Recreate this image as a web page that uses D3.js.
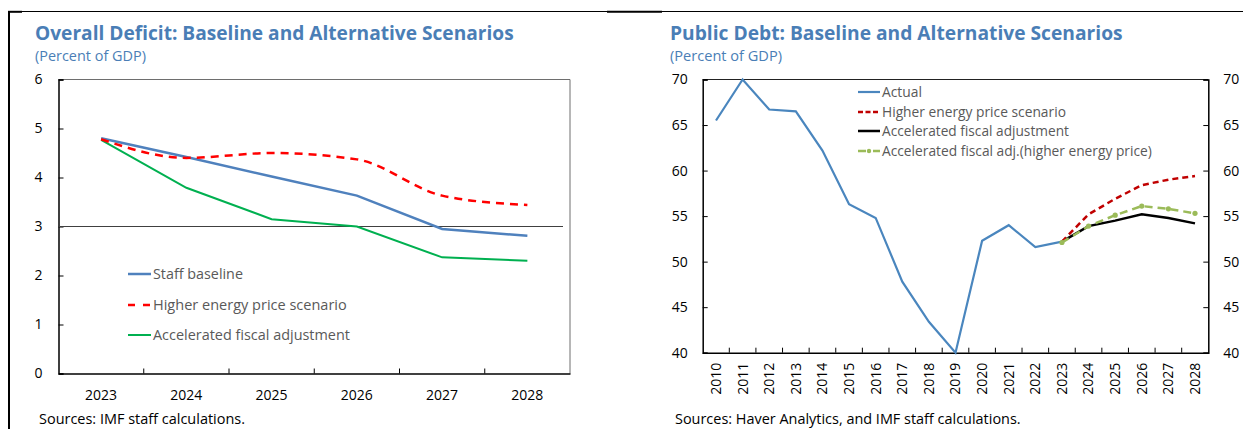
<!DOCTYPE html>
<html>
<head>
<meta charset="utf-8">
<script src="https://cdn.jsdelivr.net/npm/d3@7"></script>
<style>
  html, body { margin: 0; padding: 0; background: #fff; }
  svg { display: block; font-family: "Open Sans", "Noto Sans", sans-serif; }
</style>
</head>
<body>
<svg id="chart" width="1243" height="429"></svg>
<script>
// ---------- Data: left panel (Overall deficit, % of GDP) ----------
const deficitYears = ["2023", "2024", "2025", "2026", "2027", "2028"];
const staffBaseline = [4.80, 4.42, 4.02, 3.63, 2.95, 2.81];
const higherEnergyDeficit = [4.78, 4.40, 4.50, 4.37, 3.63, 3.44];
const acceleratedDeficit = [4.77, 3.79, 3.15, 3.00, 2.37, 2.30];
const deficitThreshold = 3;
const deficitTicks = [0, 1, 2, 3, 4, 5, 6];
const deficitLegend = ["Staff baseline", "Higher energy price scenario", "Accelerated fiscal adjustment"];

// ---------- Data: right panel (Public debt, % of GDP) ----------
const debtYears = ["2010","2011","2012","2013","2014","2015","2016","2017","2018","2019",
                   "2020","2021","2022","2023","2024","2025","2026","2027","2028"];
const actualYears = debtYears.slice(0, 14);           // 2010-2023
const scenarioYears = debtYears.slice(13);            // 2023-2028
const actualDebt = [65.5, 70.0, 66.7, 66.5, 62.2, 56.3, 54.8, 47.8, 43.4, 40.0, 52.3, 54.0, 51.6, 52.2];
const higherEnergyDebt = [52.2, 55.2, 56.9, 58.4, 59.0, 59.4];
const acceleratedDebt = [52.2, 53.9, 54.5, 55.2, 54.8, 54.2];
const acceleratedHigherDebt = [52.1, 53.9, 55.1, 56.1, 55.8, 55.3];
const debtTicks = [40, 45, 50, 55, 60, 65, 70];
const debtLegend = ["Actual", "Higher energy price scenario", "Accelerated fiscal adjustment",
                    "Accelerated fiscal adj.(higher energy price)"];

// ---------- Setup ----------
const svg = d3.select("#chart");
const TITLE_BLUE = "#4A7EB6";
const LEG_GREY = "#595959";

function fit(sel, target) {
  const n = sel.node();
  const cur = n.getComputedTextLength();
  const fs = parseFloat(sel.attr("font-size"));
  if (cur > 0) sel.attr("font-size", (fs * target / cur).toFixed(2));
  return sel;
}

// Outer frame
const frame = svg.append("g");
frame.append("line").attr("x1", 8).attr("x2", 1243).attr("y1", 11.5).attr("y2", 11.5)
  .attr("stroke", "#000").attr("stroke-width", 1);
frame.append("line").attr("x1", 8).attr("x2", 22).attr("y1", 11.8).attr("y2", 11.8)
  .attr("stroke", "#000").attr("stroke-width", 2);
frame.append("line").attr("x1", 607).attr("x2", 662).attr("y1", 11.8).attr("y2", 11.8)
  .attr("stroke", "#000").attr("stroke-width", 2);
frame.append("line").attr("x1", 9).attr("x2", 9).attr("y1", 11).attr("y2", 429)
  .attr("stroke", "#000").attr("stroke-width", 2);

// Titles
function titles(x, title, tw, sub, sw) {
  fit(svg.append("text").attr("x", x).attr("y", 40).attr("font-size", 19)
    .attr("font-weight", "bold").attr("fill", TITLE_BLUE).text(title), tw);
  fit(svg.append("text").attr("x", x).attr("y", 60.5).attr("font-size", 14)
    .attr("fill", TITLE_BLUE).text(sub), sw);
}
titles(35, "Overall Deficit: Baseline and Alternative Scenarios", 479, "(Percent of GDP)", 111);
titles(670, "Public Debt: Baseline and Alternative Scenarios", 453, "(Percent of GDP)", 112);

// Sources
fit(svg.append("text").attr("x", 39).attr("y", 424).attr("font-size", 13).attr("fill", "#000")
  .text("Sources: IMF staff calculations."), 206);
fit(svg.append("text").attr("x", 675).attr("y", 424).attr("font-size", 13).attr("fill", "#000")
  .text("Sources: Haver Analytics, and IMF staff calculations."), 346);

// ---------- Left panel ----------
{
  const L = 58.5, R = 570, T = 79.5, B = 373.5;
  const x = d3.scaleBand().domain(deficitYears).range([L, R]).padding(0);
  const y = d3.scaleLinear().domain([0, 6]).range([B, T]);
  const cx = d => x(d) + x.bandwidth() / 2;
  const g = svg.append("g");

  g.append("path").attr("d", `M${L},${T}H${R}V${B}`).attr("fill", "none")
    .attr("stroke", "#6e6e6e").attr("stroke-width", 1);

  const yAxis = g.append("g").attr("transform", `translate(${L},0)`)
    .call(d3.axisLeft(y).tickValues(deficitTicks).tickSize(-5).tickPadding(16).tickFormat(d3.format("d")));
  yAxis.select(".domain").attr("stroke", "#000").attr("stroke-width", 1.5);
  yAxis.selectAll(".tick line").attr("stroke", "#000");
  yAxis.selectAll("text").attr("font-size", 14).attr("fill", "#000").attr("font-family", "Open Sans");

  const xAxis = g.append("g").attr("transform", `translate(0,${B})`)
    .call(d3.axisBottom(x).tickSize(0).tickPadding(17));
  xAxis.select(".domain").attr("stroke", "#000").attr("stroke-width", 1.5);
  xAxis.selectAll("text").attr("font-size", 14).attr("fill", "#000").attr("font-family", "Open Sans");
  g.selectAll(".xb").data(deficitYears.slice(1)).enter().append("line")
    .attr("x1", d => x(d)).attr("x2", d => x(d)).attr("y1", B).attr("y2", B - 5)
    .attr("stroke", "#000").attr("stroke-width", 1);

  g.append("line").attr("x1", L).attr("x2", 563).attr("y1", y(deficitThreshold)).attr("y2", y(deficitThreshold))
    .attr("stroke", "#404040").attr("stroke-width", 1.2);

  const mk = (vals, curve) => d3.line().x((d, i) => cx(deficitYears[i])).y(d => y(d)).curve(curve)(vals);
  g.append("path").attr("d", mk(acceleratedDeficit, d3.curveLinear)).attr("fill", "none")
    .attr("stroke", "#00B050").attr("stroke-width", 2);
  g.append("path").attr("d", mk(staffBaseline, d3.curveLinear)).attr("fill", "none")
    .attr("stroke", "#4F81BD").attr("stroke-width", 2.5);
  g.append("path").attr("d", mk(higherEnergyDeficit, d3.curveMonotoneX)).attr("fill", "none")
    .attr("stroke", "#FF0000").attr("stroke-width", 2.5).attr("stroke-dasharray", "8,6");

  const legY = [274, 305, 335];
  const legStyles = [
    { c: "#4F81BD", w: 2.5, dash: null },
    { c: "#FF0000", w: 2.5, dash: "7,8" },
    { c: "#00B050", w: 2, dash: null }
  ];
  const legW = [90, 194, 197];
  deficitLegend.forEach((t, i) => {
    g.append("line").attr("x1", 128).attr("x2", 151).attr("y1", legY[i]).attr("y2", legY[i])
      .attr("stroke", legStyles[i].c).attr("stroke-width", legStyles[i].w)
      .attr("stroke-dasharray", legStyles[i].dash);
    fit(g.append("text").attr("x", 153).attr("y", legY[i]).attr("dy", "0.35em").attr("font-size", 14)
      .attr("fill", LEG_GREY).text(t), legW[i]);
  });
}

// ---------- Right panel ----------
{
  const L = 702.7, R = 1208.3, T = 79.5, B = 352.7;
  const x = d3.scaleBand().domain(debtYears).range([L, R]).padding(0);
  const y = d3.scaleLinear().domain([40, 70]).range([B, T]);
  const cx = d => x(d) + x.bandwidth() / 2;
  const g = svg.append("g");

  g.append("line").attr("x1", L).attr("x2", R).attr("y1", T).attr("y2", T)
    .attr("stroke", "#222").attr("stroke-width", 1);

  const yl = g.append("g").attr("transform", `translate(${L},0)`)
    .call(d3.axisLeft(y).tickValues(debtTicks).tickSize(-5).tickPadding(15));
  const yr = g.append("g").attr("transform", `translate(${R},0)`)
    .call(d3.axisRight(y).tickValues(debtTicks).tickSize(-5).tickPadding(15));
  [yl, yr].forEach(a => {
    a.select(".domain").attr("stroke", "#000").attr("stroke-width", 1.5);
    a.selectAll(".tick line").attr("stroke", "#000");
    a.selectAll("text").attr("font-size", 14).attr("fill", "#000").attr("font-family", "Open Sans");
  });

  const xAxis = g.append("g").attr("transform", `translate(0,${B})`)
    .call(d3.axisBottom(x).tickSize(0));
  xAxis.select(".domain").attr("stroke", "#000").attr("stroke-width", 1.5);
  xAxis.selectAll("text")
    .attr("font-size", 14).attr("fill", "#000").attr("font-family", "Open Sans")
    .attr("text-anchor", "end").attr("dy", "0.35em")
    .attr("transform", "translate(0,10) rotate(-90)").attr("x", 0).attr("y", 0);
  g.selectAll(".xb").data(debtYears.slice(1)).enter().append("line")
    .attr("x1", d => x(d)).attr("x2", d => x(d)).attr("y1", B).attr("y2", B - 5)
    .attr("stroke", "#000").attr("stroke-width", 1);

  const mk = (yrs, vals) => d3.line().x((d, i) => cx(yrs[i])).y(d => y(d))(vals);
  g.append("path").attr("d", mk(actualYears, actualDebt)).attr("fill", "none")
    .attr("stroke", "#4A86BE").attr("stroke-width", 2.2);
  g.append("path").attr("d", mk(scenarioYears, acceleratedDebt)).attr("fill", "none")
    .attr("stroke", "#000").attr("stroke-width", 2.5);
  g.append("path").attr("d", mk(scenarioYears, higherEnergyDebt)).attr("fill", "none")
    .attr("stroke", "#C00000").attr("stroke-width", 2.5).attr("stroke-dasharray", "6,4");
  g.append("path").attr("d", mk(scenarioYears, acceleratedHigherDebt)).attr("fill", "none")
    .attr("stroke", "#9BBB59").attr("stroke-width", 2.5).attr("stroke-dasharray", "8,5");
  g.selectAll(".gdot").data(acceleratedHigherDebt).enter().append("circle")
    .attr("cx", (d, i) => cx(scenarioYears[i])).attr("cy", d => y(d)).attr("r", 2.6)
    .attr("fill", "#9BBB59");

  // legend
  const legY = [92, 112, 131, 151];
  const legW = [40, 184, 187, 270];
  const lx1 = 858, lx2 = 880;
  g.append("line").attr("x1", lx1).attr("x2", lx2).attr("y1", legY[0]).attr("y2", legY[0])
    .attr("stroke", "#4A86BE").attr("stroke-width", 2.2);
  g.append("line").attr("x1", lx1).attr("x2", lx2 - 2).attr("y1", legY[1]).attr("y2", legY[1])
    .attr("stroke", "#C00000").attr("stroke-width", 2.5).attr("stroke-dasharray", "5,2.5");
  g.append("line").attr("x1", lx1).attr("x2", lx2).attr("y1", legY[2]).attr("y2", legY[2])
    .attr("stroke", "#000").attr("stroke-width", 2.5);
  g.append("line").attr("x1", lx1).attr("x2", lx2).attr("y1", legY[3]).attr("y2", legY[3])
    .attr("stroke", "#9BBB59").attr("stroke-width", 2.5).attr("stroke-dasharray", "8,7,7");
  g.append("circle").attr("cx", 869).attr("cy", legY[3]).attr("r", 2.2).attr("fill", "#9BBB59");
  debtLegend.forEach((t, i) => {
    fit(g.append("text").attr("x", 882).attr("y", legY[i]).attr("dy", "0.35em").attr("font-size", 13)
      .attr("fill", LEG_GREY).text(t), legW[i]);
  });
}
</script>
</body>
</html>
